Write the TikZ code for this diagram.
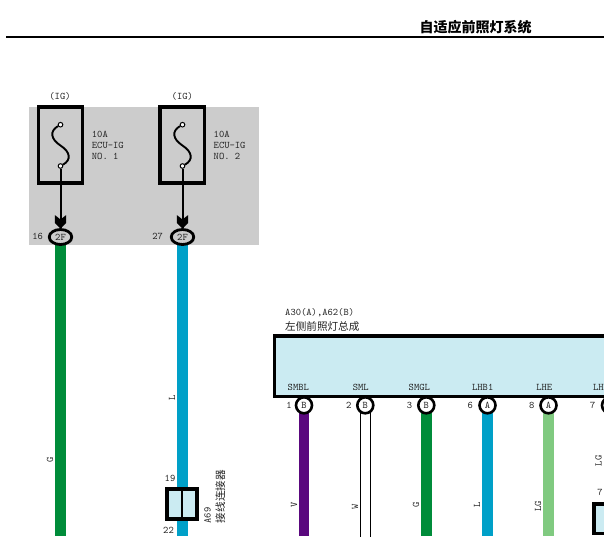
\documentclass[tikz,border=0pt]{standalone}
\usepackage{fontspec}
\renewcommand{\familydefault}{\ttdefault}
\newfontfamily\cjk{Noto Sans CJK SC}
\usetikzlibrary{shapes.geometric}
\definecolor{wgreen}{HTML}{008C3A}
\definecolor{wblue}{HTML}{00A0C8}
\definecolor{wpurple}{HTML}{5A087E}
\definecolor{wlgreen}{HTML}{80CA80}
\definecolor{panelblue}{HTML}{CBEBF2}
\definecolor{greybg}{HTML}{CCCCCC}
\definecolor{txt}{HTML}{222222}
\tikzset{x=1pt,y=-1pt,
 lbl/.style={font=\ttfamily\fontsize{10.1}{11}\selectfont,text=txt,inner sep=0pt},
 cjklbl/.style={font=\cjk\fontsize{10.6}{12}\selectfont,text=txt,inner sep=0pt},
 fusebox/.style={draw=black,line width=3.4pt,minimum width=44.5pt,minimum height=76pt,inner sep=0pt},
 pinbig/.style={circle,draw=black,line width=2.6pt,fill=white,minimum size=16pt,inner sep=0pt,font=\ttfamily\fontsize{10.1}{10}\selectfont,text=txt},
 pinoval/.style={ellipse,draw=black,line width=2.8pt,minimum width=22.5pt,minimum height=15pt,inner sep=0pt,font=\ttfamily\fontsize{10.1}{10}\selectfont,text=txt},
 term/.style={circle,draw=black,line width=1pt,fill=white,minimum size=4.6pt,inner sep=0pt},
 widewire/.style={line width=11pt},
 blockbox/.style={draw=black,line width=3.6pt,fill=panelblue},
}
\begin{document}
\begin{tikzpicture}
\useasboundingbox (0,0) rectangle (604,536);
\fill[white] (0,0) rectangle (604,536);
% title
\node[font=\cjk\bfseries\fontsize{14}{16}\selectfont,inner sep=0pt] (title) at (475.7,27.5) {自适应前照灯系统};
\coordinate (ruleL) at (6,36.8);
\coordinate (ruleR) at (604,36.8);
\draw[line width=2.6pt] (ruleL) -- (ruleR);
% grey area
\fill[greybg] (29,107) rectangle (259,244.7);
% wires left
\coordinate (g1) at (60.5,244.7); \coordinate (g2) at (60.5,536);
\coordinate (l1) at (182.5,244.7); \coordinate (l2) at (182.5,536);
\draw[wgreen,widewire] (g1) -- (g2);
\draw[wblue,widewire] (l1) -- (l2);
% fuses
\node[fusebox] (f1) at (60.5,145) {};
\node[fusebox] (f2) at (182.4,145) {};
\node[lbl] (ig1) at (60,96.7) {(IG)};
\node[lbl] (ig2) at (182.3,96.7) {(IG)};
\node[lbl,anchor=west,align=left,font=\ttfamily\fontsize{10.1}{10.9}\selectfont] (fl1) at (91.7,145.6) {10A\\ECU-IG\\NO. 1};
\node[lbl,anchor=west,align=left,font=\ttfamily\fontsize{10.1}{10.9}\selectfont] (fl2) at (213.5,145.6) {10A\\ECU-IG\\NO. 2};
\node[pinoval] (p1) at (60.5,237) {2F};
\node[pinoval] (p2) at (182.5,237) {2F};
\foreach \n/\m/\x in {a/p1/60.5,b/p2/182.5}{
 \node[term] (t\n) at (\x,124.7) {};
 \node[term] (u\n) at (\x,166) {};
 \draw[line width=1.9pt] (t\n) .. controls (\x-11,131) and (\x-10,139) .. (\x,145.5) .. controls (\x+10,152) and (\x+11,160) .. (u\n);
 \draw[line width=2pt] (u\n) -- (\m.north);
 \fill (\x-5.7,215) -- (\x,219.5) -- (\x+5.7,215) -- (\x+5.7,223) -- (\x,228.5) -- (\x-5.7,223) -- cycle;
}
\node[lbl] (n16) at (37.7,236.7) {16};
\node[lbl] (n27) at (157.7,236.7) {27};
\node[lbl,rotate=90] (wg) at (50,459.5) {G};
\node[lbl,rotate=90] (wl) at (172,397.5) {L};
% A69
\node[lbl] (n19) at (170,478) {19};
\node[lbl] (n22) at (168.5,530) {22};
\node[blockbox,minimum width=30pt,minimum height=30pt,inner sep=0pt] (a69) at (182,504) {};
\draw[line width=1.5pt] (a69.north) -- (a69.south);
\node[lbl,rotate=90] (a69n) at (207.5,515.5) {A69};
\node[cjklbl,rotate=90] (a69t) at (220.3,496.5) {接线连接器};
% headlamp
\node[lbl,anchor=west] (hn) at (285,312.7) {A30(A),A62(B)};
\node[cjklbl,anchor=west] (ht) at (285,326) {左侧前照灯总成};
\node[draw=black,line width=3.4pt,outer sep=0pt,fill=panelblue,minimum width=340pt,minimum height=60.7pt,inner sep=0pt,anchor=north west] (lamp) at (274.5,336) {};
% wires right
\coordinate (vt) at (304,405); \coordinate (vb) at (304,536);
\coordinate (gt) at (426.3,405); \coordinate (gb) at (426.3,536);
\coordinate (lt) at (487.5,405); \coordinate (lb) at (487.5,536);
\coordinate (lgt) at (548.5,405); \coordinate (lgb) at (548.5,536);
\draw[wpurple,line width=10pt] (vt) -- (vb);
\draw[black,line width=.9pt] (360.4,405) -- (360.4,540) (370.4,405) -- (370.4,540);
\draw[wgreen,widewire] (gt) -- (gb);
\draw[wblue,widewire] (lt) -- (lb);
\draw[wlgreen,widewire] (lgt) -- (lgb);
\foreach \x/\sx/\sig/\num/\pin/\nx in {304/298.3/SMBL/1/B/289,365.3/360.7/SML/2/B/348.7,426.3/419.3/SMGL/3/B/409.5,487.5/482.7/LHB1/6/A/470.3,548.5/544.3/LHE/8/A/531.7,610/603.7/LHB2/7/A/592.7}{
 \node[lbl] at (\sx,387) {\sig};
 \node[lbl] at (\nx,405) {\num};
 \node[pinbig] at (\x,405.3) {\pin};
}
\node[lbl,rotate=90] (cv) at (294,505) {V};
\node[lbl,rotate=90] (cw) at (355,507) {W};
\node[lbl,rotate=90] (cg) at (416,505) {G};
\node[lbl,rotate=90] (cl) at (477,505) {L};
\node[lbl,rotate=90] (clg) at (538,506) {LG};
\node[lbl,rotate=90] (clg2) at (598.5,460.7) {LG};
\node[lbl] (n7) at (600,492.8) {7};
\node[blockbox,outer sep=0pt,minimum width=30pt,minimum height=29.5pt,inner sep=0pt,anchor=north west] (rbox) at (594,504) {};
\end{tikzpicture}
\end{document}
